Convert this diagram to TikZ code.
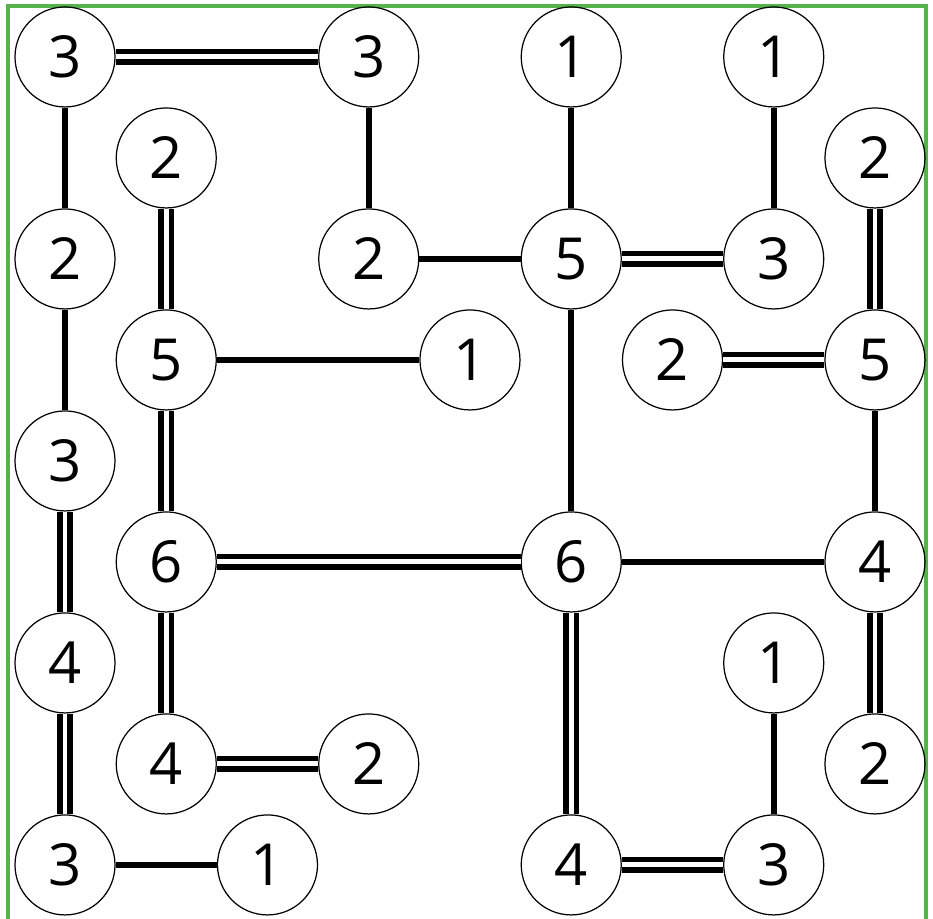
\documentclass[tikz,border=0pt]{standalone}
\usepackage{fontspec}
\setsansfont{Open Sans}
\definecolor{frame}{RGB}{86,178,74}
\begin{document}
\begin{tikzpicture}[x=1.0125cm, y=-1.01cm,
    island/.style={circle, draw, line width=0.35pt, minimum size=1cm, inner sep=0pt, font=\sffamily\fontsize{16.5}{16.5}\selectfont},
    bridge/.style={line width=1.7pt},
    dbridge/.style={double, line width=1.55pt, double distance=1.4pt}]
    \useasboundingbox (-0.642,-0.564) rectangle (8.573,8.535);
    \draw[frame, line width=1pt] (-0.563,-0.505) rectangle (8.504,8.7);
    % islands
    \node[island] (I1) at (0,0) {3};
    \node[island] (I2) at (3,0) {3};
    \node[island] (I3) at (5,0) {1};
    \node[island] (I4) at (7,0) {1};
    \node[island] (I5) at (1,1) {2};
    \node[island] (I6) at (8,1) {2};
    \node[island] (I7) at (0,2) {2};
    \node[island] (I8) at (3,2) {2};
    \node[island] (I9) at (5,2) {5};
    \node[island] (I10) at (7,2) {3};
    \node[island] (I11) at (1,3) {5};
    \node[island] (I12) at (4,3) {1};
    \node[island] (I13) at (6,3) {2};
    \node[island] (I14) at (8,3) {5};
    \node[island] (I15) at (0,4) {3};
    \node[island] (I16) at (1,5) {6};
    \node[island] (I17) at (5,5) {6};
    \node[island] (I18) at (8,5) {4};
    \node[island] (I19) at (0,6) {4};
    \node[island] (I20) at (7,6) {1};
    \node[island] (I21) at (1,7) {4};
    \node[island] (I22) at (3,7) {2};
    \node[island] (I23) at (8,7) {2};
    \node[island] (I24) at (0,8) {3};
    \node[island] (I25) at (2,8) {1};
    \node[island] (I26) at (5,8) {4};
    \node[island] (I27) at (7,8) {3};
    % single bridges
    \draw (I1) edge[bridge] (I7);
    \draw (I2) edge[bridge] (I8);
    \draw (I3) edge[bridge] (I9);
    \draw (I4) edge[bridge] (I10);
    \draw (I7) edge[bridge] (I15);
    \draw (I8) edge[bridge] (I9);
    \draw (I9) edge[bridge] (I17);
    \draw (I11) edge[bridge] (I12);
    \draw (I14) edge[bridge] (I18);
    \draw (I17) edge[bridge] (I18);
    \draw (I20) edge[bridge] (I27);
    \draw (I24) edge[bridge] (I25);
    % double bridges
    \draw (I1) edge[dbridge] (I2);
    \draw (I5) edge[dbridge] (I11);
    \draw (I6) edge[dbridge] (I14);
    \draw (I9) edge[dbridge] (I10);
    \draw (I11) edge[dbridge] (I16);
    \draw (I13) edge[dbridge] (I14);
    \draw (I15) edge[dbridge] (I19);
    \draw (I16) edge[dbridge] (I17);
    \draw (I16) edge[dbridge] (I21);
    \draw (I17) edge[dbridge] (I26);
    \draw (I18) edge[dbridge] (I23);
    \draw (I19) edge[dbridge] (I24);
    \draw (I21) edge[dbridge] (I22);
    \draw (I26) edge[dbridge] (I27);
  \end{tikzpicture}
\end{document}
